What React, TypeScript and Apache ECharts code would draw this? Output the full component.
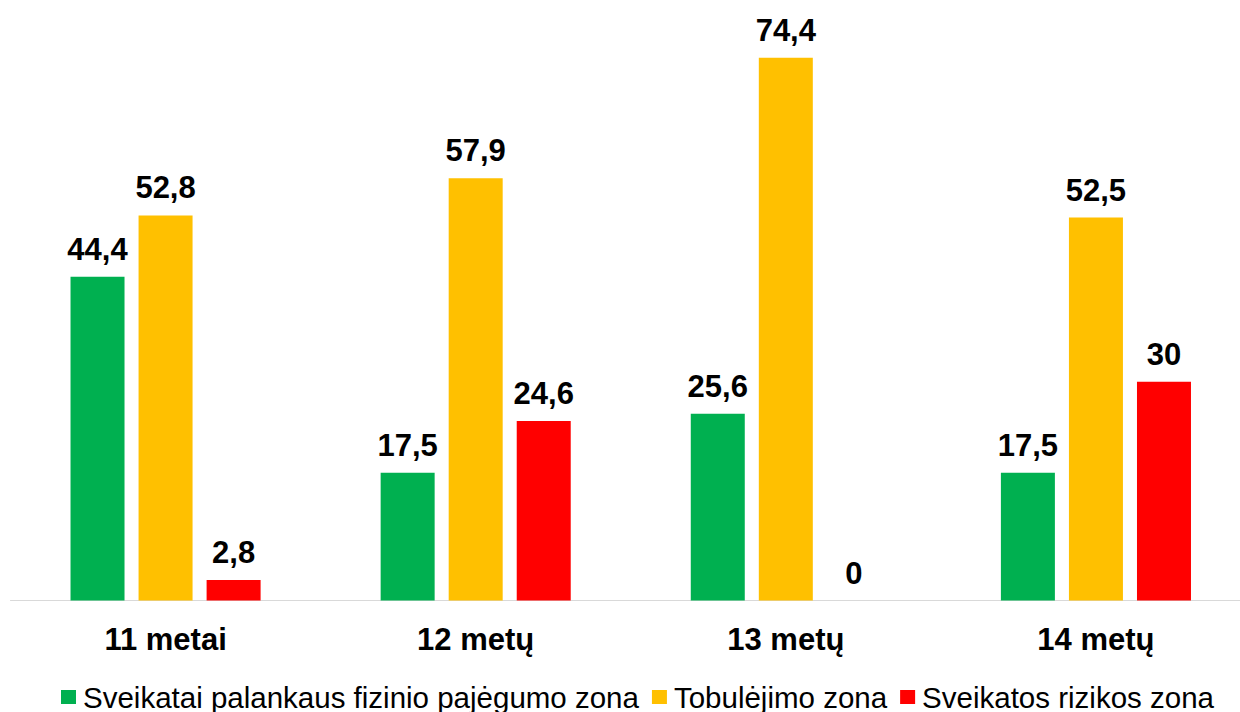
import React, { useEffect, useRef } from "react";
import * as echarts from "echarts";

const categories = ["11 metai", "12 metų", "13 metų", "14 metų"];
const seriesNames = [
  "Sveikatai palankaus fizinio pajėgumo zona",
  "Tobulėjimo zona",
  "Sveikatos rizikos zona",
];
const greenValues = [44.4, 17.5, 25.6, 17.5];
const yellowValues = [52.8, 57.9, 74.4, 52.5];
const redValues = [2.8, 24.6, 0, 30];
const colors = ["#00B050", "#FFC000", "#FF0000"];

const FONT = "Arial, 'Liberation Sans', sans-serif";

export default function App() {
  const ref = useRef<HTMLDivElement>(null);
  useEffect(() => {
    if (!ref.current) return;
    const chart = echarts.init(ref.current, null, { renderer: "svg" });
    const values = [greenValues, yellowValues, redValues];
    chart.setOption({
      animation: false,
      backgroundColor: "#ffffff",
      textStyle: { fontFamily: FONT },
      grid: { left: 10.5, right: 0, top: 17, bottom: 111.5, containLabel: false },
      legend: {
        left: 61,
        top: 682,
        padding: 0,
        itemWidth: 15,
        itemHeight: 14,
        itemGap: 13,
        icon: "rect",
        data: seriesNames,
        textStyle: {
          fontFamily: FONT,
          fontSize: 29.5,
          color: "#000000",
          lineHeight: 29,
          padding: [0, 0, 0, 2],
        },
      },
      xAxis: {
        type: "category",
        data: categories,
        axisLine: { show: true, lineStyle: { color: "#D9D9D9", width: 1 } },
        axisTick: { show: false },
        axisLabel: {
          margin: 23,
          fontFamily: FONT,
          fontSize: 31,
          fontWeight: "bold",
          color: "#000000",
          lineHeight: 31,
        },
      },
      yAxis: {
        type: "value",
        min: 0,
        max: 80,
        show: false,
        splitLine: { show: false },
      },
      series: seriesNames.map((name, i) => ({
        name,
        type: "bar",
        data: values[i],
        barWidth: 54,
        barGap: "26%",
        itemStyle: { color: colors[i] },
        label: {
          show: true,
          position: "top",
          distance: 12,
          fontFamily: FONT,
          fontSize: 31,
          fontWeight: "bold",
          color: "#000000",
          lineHeight: 31,
          formatter: (p: any) => String(p.value).replace(".", ","),
        },
      })),
    });
    return () => chart.dispose();
  }, []);
  return (
    <div
      style={{
        position: "fixed",
        left: 0,
        top: 0,
        width: 1240,
        height: 712,
        overflow: "hidden",
        background: "#ffffff",
      }}
    >
      <div ref={ref} style={{ width: 1251, height: 712 }} />
    </div>
  );
}
